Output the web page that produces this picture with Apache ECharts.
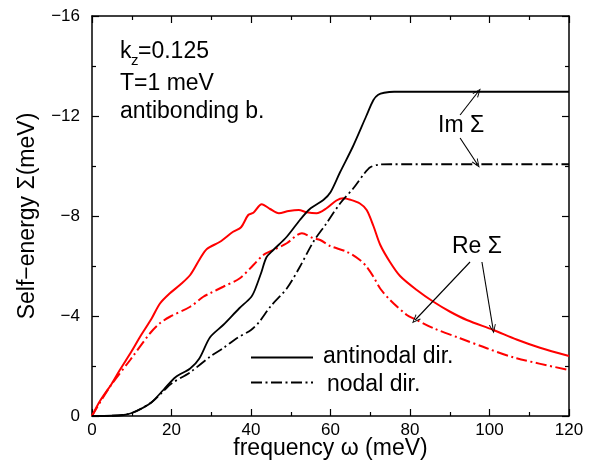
<!DOCTYPE html>
<html>
<head>
<meta charset="utf-8">
<style>html,body{margin:0;padding:0;background:#fff;}#c{width:600px;height:464px;}</style>
<script src="https://cdn.jsdelivr.net/npm/echarts@6/dist/echarts.min.js"></script>
</head>
<body>
<div id="c"></div>
<script>
// ---- data (x = frequency meV, y = self-energy meV) ----
var xTicks = [0, 20, 40, 60, 80, 100, 120];
var yTicks = [0, -4, -8, -12, -16];

var imAntinodal = [[0,0],[5,-0.01],[8,-0.04],[10,-0.12],[12.5,-0.3],[15,-0.55],[18,-1.05],[21,-1.55],[24.7,-1.9],[27,-2.3],[29.7,-3.15],[33,-3.64],[37,-4.3],[40,-4.75],[41,-5.05],[42.5,-5.7],[43.9,-6.35],[45.6,-6.64],[49,-7.17],[52.3,-7.84],[54.8,-8.28],[58.2,-8.64],[60,-8.95],[62.4,-9.75],[65.7,-10.8],[69,-12.0],[70.8,-12.64],[72,-12.85],[73.5,-12.93],[76,-12.97],[80,-12.97],[120,-12.97]];

var imNodal = [[0,0],[5,-0.01],[10,-0.12],[15,-0.55],[18,-1.0],[20,-1.3],[24.7,-1.75],[29.7,-2.37],[33,-2.71],[36.4,-3.11],[40,-3.44],[42,-3.75],[45,-4.4],[49,-5.1],[52.3,-5.97],[55.7,-6.97],[59,-7.71],[62.4,-8.5],[65.7,-9.1],[68.5,-9.7],[70,-9.95],[72,-10.05],[75,-10.07],[120,-10.07]];

var reAntinodal = [[0,0],[2,-0.6],[5,-1.3],[7,-1.84],[10,-2.6],[12.1,-3.17],[15,-3.9],[17.1,-4.5],[19.6,-4.91],[22.1,-5.24],[24.7,-5.64],[27.2,-6.3],[28.9,-6.68],[32.2,-6.97],[35.5,-7.37],[37.5,-7.55],[39.3,-8.04],[40.6,-8.13],[42.7,-8.47],[44.8,-8.28],[47,-8.11],[49.5,-8.2],[52,-8.24],[54,-8.15],[56.5,-8.11],[59,-8.31],[61.5,-8.62],[63.2,-8.71],[65,-8.65],[67.4,-8.5],[69.1,-8.24],[70.8,-7.6],[72.5,-6.85],[75,-6.15],[77.5,-5.6],[81.7,-5.04],[85.9,-4.57],[90.1,-4.17],[94.3,-3.84],[101,-3.44],[106.8,-3.06],[112.7,-2.73],[120,-2.4]];

var reNodal = [[0,0],[4.5,-1.17],[9.6,-2.24],[14.6,-3.31],[17,-3.7],[19.6,-3.97],[24.7,-4.37],[28,-4.77],[29.7,-4.91],[33,-5.17],[37.2,-5.51],[40.6,-6.04],[43.1,-6.44],[45.6,-6.64],[49,-6.91],[52.8,-7.31],[55.7,-7.11],[57.4,-7.04],[59.9,-6.8],[64.1,-6.57],[67.4,-6.24],[69.1,-5.97],[70.8,-5.57],[72.5,-5.1],[75,-4.64],[79.2,-4.04],[81.3,-3.87],[85.9,-3.51],[92.6,-3.11],[99.3,-2.71],[106.8,-2.31],[120,-1.84]];

// annotation arrows (data coordinates): [from, to]
var imArrows = [[[92.6,-12.04],[97.1,-12.96]], [[92.6,-11.12],[96.9,-10.08]]];
var reArrows = [[[95.1,-6.16],[81.3,-3.84]], [[98.1,-6.16],[100.9,-3.48]]];

var FONT = 'Liberation Sans, Arial, Helvetica, sans-serif';
var DASHDOT = [11, 3.5, 2, 3.5];
var ARROW = 'path://M5,0 L10,10 L8.6,10 L5,2.6 L1.4,10 L0,10 Z';

var chart = echarts.init(document.getElementById('c'), null, {renderer: 'canvas'});

function axisCommon(extra) {
  var o = {
    type: 'value',
    axisLine: {show: true, onZero: false, lineStyle: {color: '#000', width: 1.5}},
    axisTick: {show: true, inside: true, length: 7, lineStyle: {color: '#000', width: 1.2}},
    minorTick: {show: true, splitNumber: 2, length: 4, lineStyle: {color: '#000', width: 1.2}},
    splitLine: {show: false},
    minorSplitLine: {show: false}
  };
  for (var k in extra) o[k] = extra[k];
  return o;
}

function minusFmt(v) { return String(v).replace('-', '\u2212'); }

function arrowLines(list) {
  return list.map(function (a) { return [{coord: a[0]}, {coord: a[1]}]; });
}

var option = {
  animation: false,
  backgroundColor: '#fff',
  grid: {left: 92, right: 31, top: 16, bottom: 48, containLabel: false, outerBoundsMode: 'none'},
  xAxis: [
    axisCommon({
      min: 0, max: 120, interval: 20, position: 'bottom',
      name: 'frequency \u03c9 (meV)', nameLocation: 'middle', nameGap: 21, nameMoveOverlap: false,
      nameTextStyle: {fontFamily: FONT, fontSize: 23, color: '#000'},
      axisLabel: {show: true, margin: 6, fontFamily: FONT, fontSize: 17, color: '#000',
        formatter: function (v) { return xTicks.indexOf(v) >= 0 ? minusFmt(v) : ''; }}
    }),
    axisCommon({min: 0, max: 120, interval: 20, position: 'top', axisLabel: {show: false}})
  ],
  yAxis: [
    axisCommon({
      min: -16, max: 0, interval: 4, inverse: true, position: 'left',
      name: 'Self\u2212energy \u03a3(meV)', nameLocation: 'middle', nameGap: 53,
      nameTextStyle: {fontFamily: FONT, fontSize: 23, color: '#000'},
      axisLabel: {show: true, margin: 12, fontFamily: FONT, fontSize: 17, color: '#000',
        formatter: function (v) { return yTicks.indexOf(v) >= 0 ? minusFmt(v) : ''; }}
    }),
    axisCommon({min: -16, max: 0, interval: 4, inverse: true, position: 'right', axisLabel: {show: false}})
  ],
  series: [
    {type: 'line', name: 'Im antinodal', data: imAntinodal, showSymbol: false, smooth: 0.3,
     lineStyle: {color: '#000', width: 1.8}, z: 3,
     markLine: {silent: true, symbol: ['none', ARROW], symbolSize: [7, 9], label: {show: false},
       lineStyle: {color: '#000', width: 1.1, type: 'solid'},
       data: arrowLines(imArrows).concat(arrowLines(reArrows))}},
    {type: 'line', name: 'Im nodal', data: imNodal, showSymbol: false, smooth: 0.3,
     lineStyle: {color: '#000', width: 1.8, type: DASHDOT}, z: 3},
    {type: 'line', name: 'Re antinodal', data: reAntinodal, showSymbol: false, smooth: 0.3,
     lineStyle: {color: '#ff0000', width: 2}, z: 2},
    {type: 'line', name: 'Re nodal', data: reNodal, showSymbol: false, smooth: 0.3,
     lineStyle: {color: '#ff0000', width: 2, type: DASHDOT}, z: 2}
  ],
  graphic: [
    {type: 'text', left: 120, top: 40, style: {text: 'k', font: '23px ' + FONT, fill: '#000'}},
    {type: 'text', left: 131, top: 53, style: {text: 'z', font: '15px ' + FONT, fill: '#000'}},
    {type: 'text', left: 138, top: 40, style: {text: '=0.125', font: '23px ' + FONT, fill: '#000'}},
    {type: 'text', left: 120, top: 72, style: {text: 'T=1 meV', font: '23px ' + FONT, fill: '#000'}},
    {type: 'text', left: 120, top: 100, style: {text: 'antibonding b.', font: '23px ' + FONT, fill: '#000'}},
    {type: 'text', left: 438, top: 114, style: {text: 'Im \u03a3', font: '23px ' + FONT, fill: '#000'}},
    {type: 'text', left: 452, top: 235, style: {text: 'Re \u03a3', font: '23px ' + FONT, fill: '#000'}},
    {type: 'line', shape: {x1: 251, y1: 357.5, x2: 313, y2: 357.5}, style: {stroke: '#000', lineWidth: 1.8}},
    {type: 'line', shape: {x1: 251, y1: 382.5, x2: 313, y2: 382.5}, style: {stroke: '#000', lineWidth: 1.8, lineDash: DASHDOT}},
    {type: 'text', left: 323, top: 345, style: {text: 'antinodal dir.', font: '23px ' + FONT, fill: '#000'}},
    {type: 'text', left: 327, top: 373, style: {text: 'nodal dir.', font: '23px ' + FONT, fill: '#000'}}
  ]
};
chart.setOption(option);
</script>
</body>
</html>
